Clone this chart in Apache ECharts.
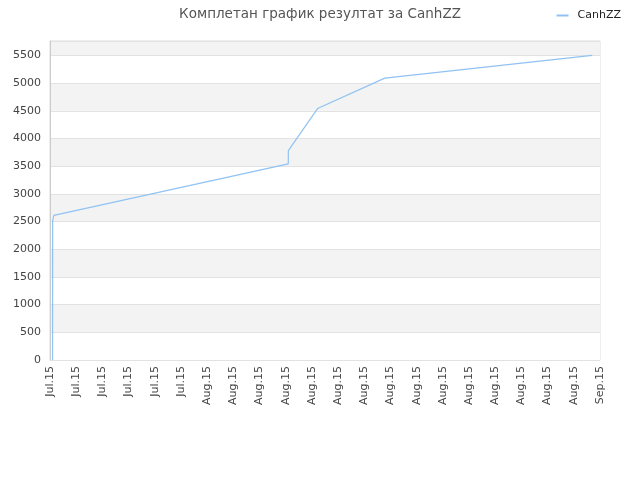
<!DOCTYPE html>
<html>
<head>
<meta charset="utf-8">
<script src="https://cdn.jsdelivr.net/npm/echarts@6/dist/echarts.min.js"></script>
<style>
    html, body { margin: 0; padding: 0; background: #fff; }
    #chart { width: 640px; height: 480px; }
</style>
</head>
<body>
<div id="chart"></div>
<script>
// values
let startDay = '2015-07-21';
let endDay = '2015-09-01';
let pointTimes = [
    '2015-07-21 04:40', '2015-07-21 04:45', '2015-07-21 04:50',
    '2015-07-21 07:00', '2015-07-21 10:00', '2015-08-08 04:40',
    '2015-08-08 04:50', '2015-08-10 10:20', '2015-08-15 13:40',
    '2015-08-31 09:40'
];
let pointValues = [0, 1000, 2510, 2610, 2640, 3540, 3780, 4540, 5090, 5500];
let monthNames = ['Jan', 'Feb', 'Mar', 'Apr', 'May', 'Jun',
    'Jul', 'Aug', 'Sep', 'Oct', 'Nov', 'Dec'];

const DAY = 86400000;

let toUtc = (s) => {
    let [d, t] = s.split(' ');
    let [y, m, dd] = d.split('-').map(Number);
    let [hh, mm] = (t || '00:00').split(':').map(Number);
    return Date.UTC(y, m - 1, dd, hh, mm);
};

let t0 = toUtc(startDay);
let spanDays = (toUtc(endDay) - t0) / DAY;

// x is in days from startDay, so a 2 day interval starts at 0
let seriesData = pointTimes.map((t, i) => [(toUtc(t) - t0) / DAY, pointValues[i]]);

let dayLabel = (v) => {
    let d = new Date(t0 + v * DAY);
    return monthNames[d.getUTCMonth()] + '.' + String(d.getUTCFullYear()).slice(2);
};

let chart = echarts.init(document.getElementById('chart'));

chart.setOption({
    animation: false,
    title: {
        text: 'Комплетан график резултат за CanhZZ',
        left: 'center',
        top: 2,
        textStyle: {
            fontFamily: 'DejaVu Sans',
            fontSize: 13.5,
            fontWeight: 'normal',
            color: '#555'
        }
    },
    legend: {
        right: 14,
        top: 5,
        itemWidth: 12,
        itemHeight: 2,
        itemGap: 6,
        icon: 'rect',
        textStyle: { fontFamily: 'DejaVu Sans', fontSize: 11, color: '#222', padding: [0, 0, 0, 4] },
        data: ['CanhZZ']
    },
    grid: {
        left: 50,
        right: 40,
        top: 41,
        bottom: 120,
        show: true,
        borderColor: '#ddd',
        borderWidth: 1,
        containLabel: false
    },
    xAxis: {
        type: 'value',
        min: 0,
        max: spanDays,
        interval: 2,
        axisLine: { show: false },
        axisTick: { show: false },
        splitLine: { show: false },
        axisLabel: {
            rotate: 90,
            margin: 6,
            fontFamily: 'DejaVu Sans',
            fontSize: 11,
            color: '#444',
            formatter: dayLabel
        }
    },
    yAxis: {
        type: 'value',
        min: 0,
        max: 5760,
        interval: 500,
        axisLine: { show: true, lineStyle: { color: '#ccc' } },
        axisTick: { show: false },
        axisLabel: {
            margin: 9,
            fontFamily: 'DejaVu Sans',
            fontSize: 11,
            color: '#444',
            showMaxLabel: false,
            formatter: (v) => String(v)
        },
        splitLine: { show: true, lineStyle: { color: '#e2e2e2' } },
        splitArea: { show: true, areaStyle: { color: ['#ffffff', '#f3f3f3'] } }
    },
    series: [{
        name: 'CanhZZ',
        type: 'line',
        data: seriesData,
        showSymbol: false,
        symbol: 'none',
        lineStyle: { color: '#90c2f3', width: 1.2 },
        itemStyle: { color: '#90c2f3' }
    }]
});
</script>
</body>
</html>
